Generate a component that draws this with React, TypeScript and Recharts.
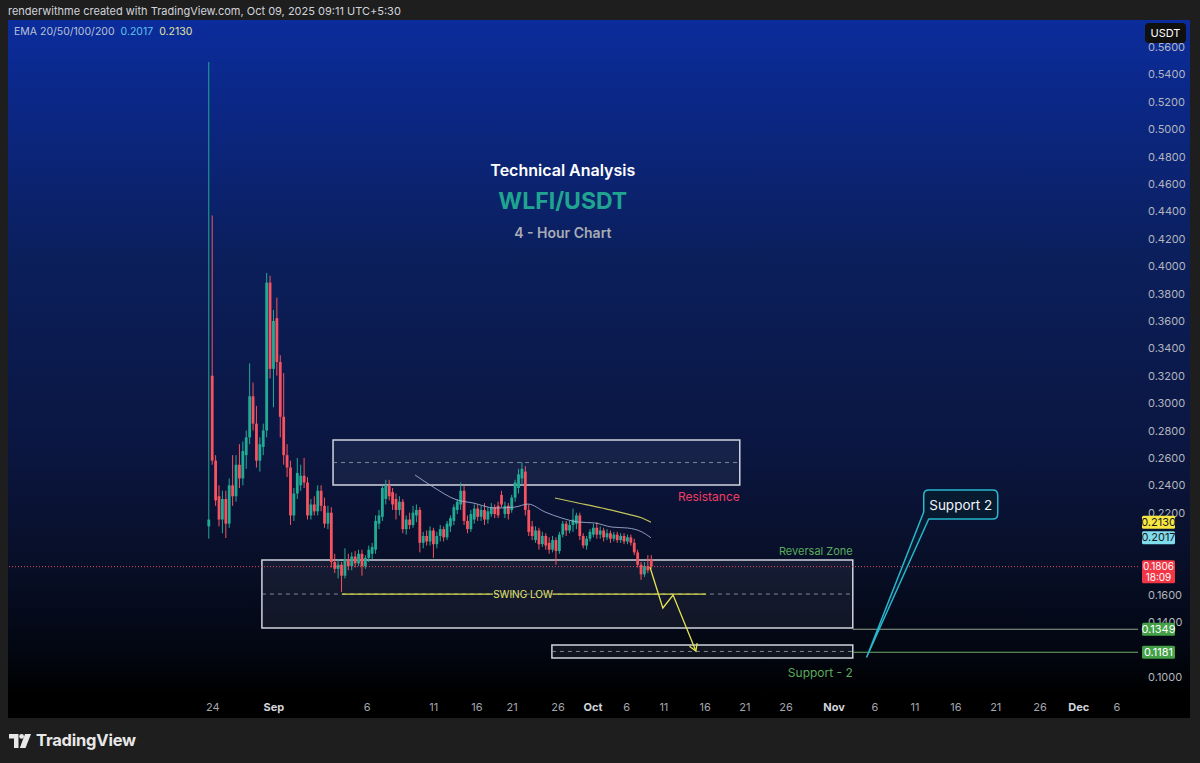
import React from "react";
import {
  ComposedChart,
  Bar,
  Line,
  XAxis,
  YAxis,
  ReferenceArea,
  ReferenceLine,
  ReferenceDot,
} from "recharts";

const FONT = "Inter, 'Noto Sans', sans-serif";
const UP = "#22ab94";
const DOWN = "#f7525f";

// [open, high, low, close] per candle
const candles: [number, number, number, number][] = [
  [0.21, 0.549, 0.201, 0.215],
  [0.32, 0.437, 0.255, 0.258],
  [0.258, 0.262, 0.225, 0.229],
  [0.232, 0.24, 0.21, 0.215],
  [0.215, 0.236, 0.205, 0.23],
  [0.23, 0.236, 0.2015, 0.212],
  [0.212, 0.245, 0.209, 0.24],
  [0.24, 0.262, 0.225, 0.232],
  [0.232, 0.262, 0.228, 0.255],
  [0.255, 0.27, 0.238, 0.245],
  [0.245, 0.272, 0.24, 0.265],
  [0.262, 0.28, 0.252, 0.275],
  [0.275, 0.329, 0.27, 0.305],
  [0.305, 0.315, 0.28, 0.285],
  [0.285, 0.298, 0.253, 0.258],
  [0.258, 0.275, 0.25, 0.27],
  [0.268, 0.285, 0.262, 0.28],
  [0.28, 0.395, 0.275, 0.388],
  [0.388, 0.393, 0.318, 0.325],
  [0.325, 0.368, 0.297, 0.36],
  [0.362, 0.377, 0.32, 0.33],
  [0.33, 0.335, 0.275, 0.29],
  [0.29, 0.322, 0.255, 0.262],
  [0.262, 0.27, 0.246, 0.253],
  [0.253, 0.258, 0.211, 0.218],
  [0.218, 0.238, 0.214, 0.234],
  [0.234, 0.26, 0.23, 0.249],
  [0.24, 0.255, 0.236, 0.247],
  [0.247, 0.26, 0.238, 0.242],
  [0.242, 0.246, 0.215, 0.218],
  [0.218, 0.23, 0.215, 0.226],
  [0.226, 0.232, 0.218, 0.221],
  [0.221, 0.24, 0.218, 0.236],
  [0.236, 0.24, 0.221, 0.225],
  [0.225, 0.231, 0.209, 0.212],
  [0.212, 0.225, 0.208, 0.22],
  [0.22, 0.224, 0.18, 0.184],
  [0.184, 0.19, 0.176, 0.179],
  [0.179, 0.186, 0.172, 0.182],
  [0.182, 0.184, 0.162, 0.174],
  [0.174, 0.194, 0.172, 0.186],
  [0.186, 0.19, 0.178, 0.181],
  [0.181, 0.191, 0.178, 0.188],
  [0.188, 0.192, 0.18, 0.183],
  [0.183, 0.193, 0.181, 0.19],
  [0.19, 0.193, 0.174, 0.181],
  [0.181, 0.189, 0.179, 0.187],
  [0.187, 0.196, 0.184, 0.193],
  [0.19, 0.198, 0.186, 0.195],
  [0.193, 0.218, 0.19, 0.214],
  [0.212, 0.222, 0.208, 0.218],
  [0.217, 0.24, 0.214, 0.238],
  [0.23, 0.244, 0.226, 0.24],
  [0.24, 0.244, 0.229, 0.232],
  [0.235, 0.238, 0.222, 0.226],
  [0.23, 0.234, 0.215, 0.222],
  [0.222, 0.232, 0.218, 0.228],
  [0.228, 0.23, 0.205, 0.208],
  [0.208, 0.218, 0.204, 0.215],
  [0.215, 0.22, 0.208, 0.211],
  [0.211, 0.225, 0.209, 0.22],
  [0.218, 0.226, 0.213, 0.222],
  [0.222, 0.224, 0.191, 0.198],
  [0.198, 0.206, 0.194, 0.203],
  [0.203, 0.207, 0.196, 0.199],
  [0.199, 0.21, 0.196, 0.207],
  [0.207, 0.209, 0.187, 0.197],
  [0.197, 0.206, 0.194, 0.203],
  [0.203, 0.211, 0.199, 0.208],
  [0.208, 0.21, 0.199, 0.202],
  [0.202, 0.214, 0.2, 0.212],
  [0.21, 0.218, 0.206, 0.216],
  [0.214, 0.226, 0.211, 0.224],
  [0.222, 0.23, 0.219, 0.228],
  [0.226, 0.242, 0.222, 0.236],
  [0.236, 0.24, 0.211, 0.214],
  [0.214, 0.218, 0.205, 0.208],
  [0.208, 0.222, 0.206, 0.219],
  [0.215, 0.226, 0.212, 0.223],
  [0.223, 0.226, 0.214, 0.217],
  [0.217, 0.225, 0.214, 0.222],
  [0.222, 0.227, 0.211, 0.215],
  [0.215, 0.224, 0.212, 0.221],
  [0.219, 0.227, 0.217, 0.224],
  [0.224, 0.226, 0.216, 0.219],
  [0.225, 0.228, 0.216, 0.218],
  [0.233, 0.236, 0.224, 0.226],
  [0.219, 0.228, 0.216, 0.225],
  [0.225, 0.227, 0.215, 0.219],
  [0.222, 0.233, 0.22, 0.231],
  [0.231, 0.244, 0.228, 0.242],
  [0.238, 0.252, 0.234, 0.248],
  [0.245, 0.257, 0.24, 0.252],
  [0.25, 0.254, 0.218, 0.222],
  [0.222, 0.226, 0.203, 0.206],
  [0.21, 0.214, 0.2, 0.203],
  [0.2, 0.21, 0.198, 0.207],
  [0.207, 0.209, 0.193, 0.197],
  [0.197, 0.206, 0.195, 0.203],
  [0.203, 0.205, 0.193, 0.196],
  [0.198, 0.202, 0.19, 0.193],
  [0.193, 0.203, 0.191, 0.2],
  [0.2, 0.202, 0.182, 0.192],
  [0.192, 0.206, 0.19, 0.204],
  [0.204, 0.214, 0.202, 0.212],
  [0.212, 0.214, 0.203, 0.207],
  [0.207, 0.214, 0.205, 0.211],
  [0.211, 0.223, 0.206, 0.215],
  [0.212, 0.22, 0.208, 0.218],
  [0.218, 0.22, 0.2, 0.203],
  [0.203, 0.205, 0.194, 0.196],
  [0.196, 0.203, 0.193, 0.201],
  [0.201, 0.208, 0.199, 0.206],
  [0.204, 0.212, 0.202, 0.209],
  [0.209, 0.213, 0.201, 0.204],
  [0.204, 0.21, 0.201, 0.207],
  [0.207, 0.209, 0.199, 0.202],
  [0.202, 0.208, 0.2, 0.205],
  [0.205, 0.207, 0.198, 0.201],
  [0.201, 0.206, 0.199, 0.204],
  [0.204, 0.206, 0.198, 0.2],
  [0.2, 0.205, 0.198, 0.203],
  [0.203, 0.205, 0.197, 0.199],
  [0.199, 0.204, 0.197, 0.202],
  [0.202, 0.204, 0.196, 0.198],
  [0.198, 0.201, 0.189, 0.191],
  [0.191, 0.193, 0.18, 0.182],
  [0.182, 0.184, 0.171, 0.175],
  [0.175, 0.184, 0.173, 0.181],
  [0.181, 0.189, 0.176, 0.178],
  [0.186, 0.189, 0.179, 0.1806],
];
const FIRST_SLOT = 59;

// two EMA lines, sampled where they are drawn
const emaBlue = [
  { slot: 119.6, v: 0.2475 },
  { slot: 124.9, v: 0.2388 },
  { slot: 131.9, v: 0.2293 },
  { slot: 136.6, v: 0.2271 },
  { slot: 143.1, v: 0.2234 },
  { slot: 148.9, v: 0.2241 },
  { slot: 152.8, v: 0.2263 },
  { slot: 157.8, v: 0.2205 },
  { slot: 162.7, v: 0.2161 },
  { slot: 167.5, v: 0.2132 },
  { slot: 172.4, v: 0.2125 },
  { slot: 177.4, v: 0.2095 },
  { slot: 182.1, v: 0.2088 },
  { slot: 186.3, v: 0.2059 },
  { slot: 188.9, v: 0.2017 },
];
const emaYellow = [
  { slot: 160.7, v: 0.2307 },
  { slot: 167.5, v: 0.2271 },
  { slot: 174.5, v: 0.2234 },
  { slot: 182.1, v: 0.219 },
  { slot: 186.3, v: 0.2161 },
  { slot: 188.9, v: 0.213 },
];
const arrowPath = [
  { slot: 188.6, v: 0.1803 },
  { slot: 192.4, v: 0.1504 },
  { slot: 195.4, v: 0.1599 },
  { slot: 202.1, v: 0.119 },
];

// price scale ticks (0.12 / 0.18 / 0.20 sit under the price badges)
const priceTicks = [
  0.1, 0.14, 0.16, 0.22, 0.24, 0.26, 0.28, 0.3, 0.32, 0.34, 0.36, 0.38, 0.4,
  0.42, 0.44, 0.46, 0.48, 0.5, 0.52, 0.54, 0.56,
];
// price badges on the scale
const badgePrices = [0.213, 0.2017, 0.1806, 0.1349, 0.1181];
const badgeSub = ["", "", "18:09", "", ""];
const badgeBg = ["#f5e642", "#7fdcec", "#f23645", "#43a047", "#43a047"];
const badgeFg = ["#1a1a1a", "#1a1a1a", "#ffffff", "#ffffff", "#ffffff"];

const timeTickSlots = [
  60.2, 78.1, 105.5, 125.1, 137.8, 148.1, 161.6, 171.9, 181.8, 192.7, 204.8,
  216.5, 228.6, 242.7, 254.7, 266.5, 278.5, 290.2, 303.2, 314.6, 325.8,
];
const timeTickLabels = [
  "24", "Sep", "6", "11", "16", "21", "26", "Oct", "6", "11", "16", "21", "26",
  "Nov", "6", "11", "16", "21", "26", "Dec", "6",
];
const monthLabels = ["Sep", "Oct", "Nov", "Dec"];

const Y_MIN = 0.0869;
const Y_MAX = 0.5797;
const X_MAX = 332;

const resistance = { x1: 95.5, x2: 215, y1: 0.2402, y2: 0.2731, mid: 0.2566 };
const reversal = { x1: 74.6, x2: 248.2, y1: 0.1358, y2: 0.1854, mid: 0.1606 };
const support2 = { x1: 159.8, x2: 248.2, y1: 0.1139, y2: 0.1234, mid: 0.1187 };
const swingLow = 0.1606;

const chartData = candles.map(([o, h, l, c], i) => ({
  slot: FIRST_SLOT + i,
  o,
  h,
  l,
  c,
  range: [l, h],
}));

const Candle = (props: any) => {
  const { x, y, width, height } = props;
  const p = props.payload || props;
  const k = height / (p.h - p.l || 1);
  const yO = y + (p.h - p.o) * k;
  const yC = y + (p.h - p.c) * k;
  const color = p.c >= p.o ? UP : DOWN;
  const cx = x + width / 2;
  return (
    <g>
      <line x1={cx} x2={cx} y1={y} y2={y + height} stroke={color} strokeWidth={1} />
      <rect
        x={cx - 1.4}
        y={Math.min(yO, yC)}
        width={2.8}
        height={Math.max(Math.abs(yO - yC), 1)}
        fill={color}
      />
    </g>
  );
};

const PriceTick = ({ x, y, payload }: any) => {
  const b = badgePrices.indexOf(payload.value);
  if (b < 0) {
    return (
      <text x={x + 2} y={y} dy={4} fill="#b2b5be" fontSize={11} fontFamily={FONT}>
        {payload.value.toFixed(4)}
      </text>
    );
  }
  const sub = badgeSub[b];
  const bx = x - 4;
  const top = sub ? y - 6.5 : y - 6.5;
  const h = sub ? 23 : 13;
  const fs = sub ? 10 : 11;
  return (
    <g>
      <rect x={bx} y={top} width={33} height={h} rx={1.5} fill={badgeBg[b]} />
      <text x={bx + 16.5} y={top + 10} textAnchor="middle" fontSize={fs} fill={badgeFg[b]} fontFamily={FONT}>
        {payload.value.toFixed(4)}
      </text>
      {sub && (
        <text x={bx + 16.5} y={top + 21} textAnchor="middle" fontSize={fs} fill={badgeFg[b]} fontFamily={FONT}>
          {sub}
        </text>
      )}
    </g>
  );
};

const TimeTick = ({ x, y, payload }: any) => {
  const label = timeTickLabels[timeTickSlots.indexOf(payload.value)] ?? "";
  const month = monthLabels.includes(label);
  return (
    <text
      x={x}
      y={y}
      dy={8}
      textAnchor="middle"
      fill={month ? "#d1d4dc" : "#a3a6af"}
      fontWeight={month ? 700 : 400}
      fontSize={11}
      fontFamily={FONT}
    >
      {label}
    </text>
  );
};

const textShape =
  (text: string, color: string, size: number, weight: number, anchor: string, dy = 0) =>
  (props: any) => (
    <text
      x={props.cx}
      y={props.cy}
      dy={dy}
      textAnchor={anchor as any}
      dominantBaseline="central"
      fill={color}
      fontSize={size}
      fontWeight={weight}
      fontFamily={FONT}
    >
      {text}
    </text>
  );

const Callout = (props: any) => {
  const { cx, cy } = props;
  const L = cx + 57;
  const R = cx + 131;
  const T = cy - 167;
  const B = cy - 138;
  const r = 5;
  const d = `M${L + r},${T} H${R - r} Q${R},${T} ${R},${T + r} V${B - r} Q${R},${B} ${R - r},${B} H${cx + 62} L${cx},${cy} L${L},${cy - 145} V${T + r} Q${L},${T} ${L + r},${T} Z`;
  return (
    <g>
      <path d={d} fill="#081a30" stroke="#27b6cc" strokeWidth={1.5} strokeLinejoin="round" />
      <text
        x={(L + R) / 2}
        y={(T + B) / 2}
        textAnchor="middle"
        dominantBaseline="central"
        fill="#f0f3fa"
        fontSize={13.5}
        fontFamily={FONT}
      >
        Support 2
      </text>
    </g>
  );
};

const ArrowDot = (props: any) => {
  const { cx, cy, index, points } = props;
  if (index !== arrowPath.length - 1 || !points || !points[index - 1]) {
    return <g key={`ad-${index}`} />;
  }
  const prev = points[index - 1];
  const ang = Math.atan2(cy - prev.y, cx - prev.x);
  const len = 8;
  const s = 0.55;
  const ax = cx - len * Math.cos(ang - s);
  const ay = cy - len * Math.sin(ang - s);
  const bx = cx - len * Math.cos(ang + s);
  const by = cy - len * Math.sin(ang + s);
  return (
    <path
      key={`ad-${index}`}
      d={`M${ax},${ay} L${cx},${cy} L${bx},${by}`}
      stroke="#e3e34f"
      strokeWidth={1.3}
      fill="none"
    />
  );
};

const zoneBox = (z: typeof resistance, key: string) => [
  <ReferenceArea
    key={`${key}-a`}
    x1={z.x1}
    x2={z.x2}
    y1={z.y1}
    y2={z.y2}
    fill="#8a90a8"
    fillOpacity={0.1}
    stroke="#cfd3dc"
    strokeWidth={1.5}
  />,
  <ReferenceLine
    key={`${key}-m`}
    segment={[
      { x: z.x1, y: z.mid },
      { x: z.x2, y: z.mid },
    ]}
    stroke="#9aa0ad"
    strokeOpacity={0.8}
    strokeDasharray="4 4"
  />,
];

export default function App() {
  return (
    <div
      style={{
        position: "absolute",
        left: 0,
        top: 0,
        width: 1200,
        height: 763,
        background: "#1e1e1e",
        overflow: "hidden",
        fontFamily: FONT,
      }}
    >
      <div style={{ position: "absolute", left: 8, top: 4, fontSize: 11, color: "#d1d4dc" }}>
        renderwithme created with TradingView.com, Oct 09, 2025 09:11 UTC+5:30
      </div>
      <div
        style={{
          position: "absolute",
          left: 8,
          top: 20,
          width: 1182,
          height: 675,
          background:
            "linear-gradient(180deg, #0b2c9c 0%, #0b1f5c 35%, #0b1640 64%, #080f28 80%, #030712 93%, #000 100%)",
        }}
      />
      <div style={{ position: "absolute", left: 8, top: 695, width: 1182, height: 23, background: "#000" }} />

      <div style={{ position: "absolute", left: 8, top: 20 }}>
        <ComposedChart
          width={1182}
          height={698}
          data={chartData}
          margin={{ top: 0, right: 0, bottom: 0, left: 0 }}
        >
          <XAxis
            dataKey="slot"
            type="number"
            domain={[0, X_MAX]}
            ticks={timeTickSlots}
            allowDataOverflow
            axisLine={false}
            tickLine={false}
            height={23}
            tick={<TimeTick />}
            interval={0}
          />
          <YAxis
            orientation="right"
            type="number"
            domain={[Y_MIN, Y_MAX]}
            ticks={[...priceTicks, ...badgePrices]}
            allowDataOverflow
            axisLine={false}
            tickLine={false}
            width={52}
            tick={<PriceTick />}
            interval={0}
          />

          {zoneBox(resistance, "res")}
          {zoneBox(reversal, "rev")}
          {zoneBox(support2, "sup")}

          <ReferenceLine y={0.1806} stroke={DOWN} strokeDasharray="1 2" strokeOpacity={0.9} />
          <ReferenceLine
            segment={[
              { x: reversal.x2, y: 0.1349 },
              { x: X_MAX, y: 0.1349 },
            ]}
            stroke="#8fa58c"
            strokeWidth={1.2}
          />
          <ReferenceLine
            segment={[
              { x: support2.x2, y: 0.1181 },
              { x: X_MAX, y: 0.1181 },
            ]}
            stroke="#6fae68"
            strokeWidth={1.2}
          />

          <ReferenceLine
            segment={[
              { x: 98.1, y: swingLow },
              { x: 142.5, y: swingLow },
            ]}
            stroke="#d9d94c"
            strokeWidth={1.2}
          />
          <ReferenceLine
            segment={[
              { x: 160.1, y: swingLow },
              { x: 205.1, y: swingLow },
            ]}
            stroke="#d9d94c"
            strokeWidth={1.2}
          />
          <ReferenceDot x={151.3} y={swingLow} shape={textShape("SWING LOW", "#e2e26a", 10, 400, "middle")} />

          <Bar dataKey="range" barSize={3} shape={<Candle />} isAnimationActive={false} />

          <Line
            data={emaBlue}
            dataKey="v"
            type="monotone"
            stroke="#a3b3d6"
            strokeOpacity={0.85}
            strokeWidth={1}
            dot={false}
            activeDot={false}
            isAnimationActive={false}
          />
          <Line
            data={emaYellow}
            dataKey="v"
            type="monotone"
            stroke="#c2c25a"
            strokeWidth={1.2}
            dot={false}
            activeDot={false}
            isAnimationActive={false}
          />
          <Line
            data={arrowPath}
            dataKey="v"
            type="linear"
            stroke="#e3e34f"
            strokeWidth={1.3}
            dot={<ArrowDot />}
            activeDot={false}
            isAnimationActive={false}
          />

          <ReferenceDot x={resistance.x2} y={resistance.y1} shape={textShape("Resistance", "#ee3d63", 12, 400, "end", 11)} />
          <ReferenceDot x={reversal.x2} y={reversal.y2} shape={textShape("Reversal Zone", "#5aab5e", 11, 400, "end", -9)} />
          <ReferenceDot x={support2.x2} y={support2.y1} shape={textShape("Support - 2", "#5aab5e", 12, 400, "end", 14)} />

          <ReferenceDot x={163} y={0.4702} shape={textShape("Technical Analysis", "#ffffff", 16, 600, "middle")} />
          <ReferenceDot x={163} y={0.4476} shape={textShape("WLFI/USDT", "#1fa58f", 23, 700, "middle")} />
          <ReferenceDot x={163} y={0.4249} shape={textShape("4 - Hour Chart", "#a8abb5", 14, 600, "middle")} />

          <ReferenceDot x={252.3} y={0.1146} shape={<Callout />} />
        </ComposedChart>
      </div>

      <div style={{ position: "absolute", left: 14, top: 25, fontSize: 10.5, whiteSpace: "nowrap" }}>
        <span style={{ color: "#b8c0d8" }}>EMA 20/50/100/200</span>
        <span style={{ color: "#5ec2ec", marginLeft: 6 }}>0.2017</span>
        <span style={{ color: "#e4e3a0", marginLeft: 6 }}>0.2130</span>
      </div>

      <div
        style={{
          position: "absolute",
          left: 1145,
          top: 23,
          width: 41,
          height: 20,
          background: "#101010",
          borderRadius: 4,
          color: "#ffffff",
          fontSize: 11,
          lineHeight: "20px",
          textAlign: "center",
        }}
      >
        USDT
      </div>

      <svg style={{ position: "absolute", left: 9, top: 733 }} width={24} height={16}>
        <path d="M0,1 H9.5 V15 H5 V5.5 H0 Z" fill="#e8e8e8" />
        <circle cx={12.6} cy={3.4} r={2.4} fill="#e8e8e8" />
        <path d="M16,1 H22 L16.5,15 H10.8 Z" fill="#e8e8e8" />
      </svg>
      <div
        style={{
          position: "absolute",
          left: 36,
          top: 730,
          fontSize: 16.5,
          fontWeight: 700,
          color: "#e8e8e8",
          letterSpacing: -0.2,
        }}
      >
        TradingView
      </div>
    </div>
  );
}
